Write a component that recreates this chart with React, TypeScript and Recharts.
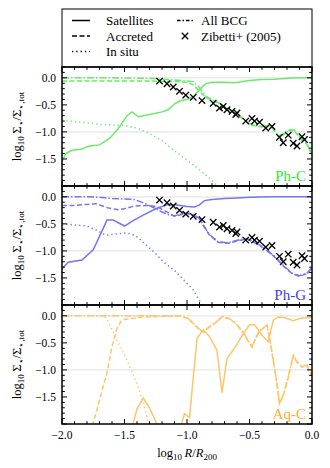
import React from "react";
import { ComposedChart, Line, Scatter, XAxis, YAxis, ReferenceLine } from "recharts";

type Pt = [number, number];

// Zibetti+ (2005) stacked profile, same in Ph-C and Ph-G panels
const zibetti: Pt[] = [
  [-1.22, -0.06], [-1.16, -0.11], [-1.11, -0.17], [-1.06, -0.25], [-1.01, -0.32],
  [-0.95, -0.36], [-0.88, -0.42], [-0.79, -0.47], [-0.74, -0.56], [-0.71, -0.53],
  [-0.68, -0.59], [-0.64, -0.62], [-0.61, -0.68], [-0.6, -0.65], [-0.53, -0.8],
  [-0.48, -0.75], [-0.46, -0.8], [-0.42, -0.82], [-0.37, -0.93], [-0.32, -0.9],
  [-0.26, -1.1], [-0.23, -1.2], [-0.19, -1.06], [-0.15, -1.21], [-0.12, -1.26],
  [-0.08, -1.09], [-0.06, -1.14],
];

// Ph-C
const phcSatellites: Pt[] = [
  [-2.0, -1.55], [-1.97, -1.4], [-1.92, -1.34], [-1.85, -1.32], [-1.78, -1.26],
  [-1.7, -1.24], [-1.62, -1.12], [-1.55, -0.94], [-1.48, -0.7], [-1.44, -0.63],
  [-1.39, -0.72], [-1.3, -0.68], [-1.2, -0.63], [-1.15, -0.59], [-1.1, -0.48],
  [-1.05, -0.42], [-1.0, -0.4], [-0.95, -0.35], [-0.9, -0.22], [-0.85, -0.11],
  [-0.8, -0.08], [-0.7, -0.08], [-0.62, -0.09], [-0.5, -0.05], [-0.4, -0.03],
  [-0.3, -0.025], [-0.2, -0.01], [-0.1, 0], [0, 0],
];
const phcAccreted: Pt[] = [
  [-2.0, -0.06], [-1.6, -0.06], [-1.3, -0.06], [-1.1, -0.07], [-1.0, -0.08],
  [-0.95, -0.13], [-0.9, -0.25], [-0.85, -0.36], [-0.8, -0.41], [-0.74, -0.48],
  [-0.7, -0.54], [-0.65, -0.61], [-0.61, -0.66], [-0.55, -0.77], [-0.5, -0.86],
  [-0.45, -0.89], [-0.4, -0.91], [-0.33, -0.88], [-0.3, -0.98], [-0.27, -1.08],
  [-0.22, -1.04], [-0.18, -0.97], [-0.14, -0.98], [-0.09, -1.13], [-0.04, -1.23],
  [0, -1.43],
];
const phcInsitu: Pt[] = [
  [-2.0, -0.78], [-1.9, -0.81], [-1.8, -0.83], [-1.7, -0.86], [-1.6, -0.87],
  [-1.5, -0.88], [-1.4, -0.93], [-1.3, -1.03], [-1.2, -1.16], [-1.1, -1.35],
  [-1.0, -1.52], [-0.9, -1.7], [-0.8, -1.9], [-0.72, -2.08],
];
const phcAll: Pt[] = [
  [-2.0, 0], [-1.6, 0], [-1.3, -0.01], [-1.1, -0.04], [-0.95, -0.07],
  [-0.9, -0.18], [-0.85, -0.34], [-0.8, -0.4], [-0.74, -0.47], [-0.7, -0.53],
  [-0.65, -0.6], [-0.61, -0.65], [-0.55, -0.76], [-0.5, -0.85], [-0.45, -0.88],
  [-0.4, -0.9], [-0.33, -0.87], [-0.3, -0.97], [-0.27, -1.07], [-0.22, -1.03],
  [-0.18, -0.96], [-0.14, -0.97], [-0.09, -1.12], [-0.04, -1.22], [0, -1.42],
];

// Ph-G
const phgSatellites: Pt[] = [
  [-2.0, -1.33], [-1.95, -1.21], [-1.84, -1.17], [-1.75, -0.98], [-1.64, -0.43],
  [-1.59, -0.43], [-1.5, -0.54], [-1.43, -0.44], [-1.35, -0.34], [-1.25, -0.22],
  [-1.15, -0.14], [-1.08, -0.15], [-1.0, -0.18], [-0.94, -0.19], [-0.9, -0.15],
  [-0.86, -0.07], [-0.8, -0.05], [-0.7, -0.03], [-0.6, -0.02], [-0.5, -0.01],
  [-0.3, 0], [0, 0],
];
const phgAccreted: Pt[] = [
  [-2.0, -0.16], [-1.9, -0.16], [-1.8, -0.14], [-1.72, -0.13], [-1.64, -0.2],
  [-1.55, -0.24], [-1.5, -0.22], [-1.42, -0.17], [-1.32, -0.16], [-1.24, -0.18],
  [-1.16, -0.28], [-1.1, -0.36], [-1.05, -0.33], [-1.0, -0.31], [-0.95, -0.34],
  [-0.9, -0.41], [-0.87, -0.53], [-0.82, -0.71], [-0.75, -0.84], [-0.67, -0.86],
  [-0.59, -0.81], [-0.52, -0.78], [-0.44, -0.87], [-0.38, -0.96], [-0.3, -1.11],
  [-0.22, -1.3], [-0.16, -1.42], [-0.1, -1.47], [-0.04, -1.42], [0, -1.32],
];
const phgInsitu: Pt[] = [
  [-2.0, -0.5], [-1.9, -0.52], [-1.8, -0.54], [-1.72, -0.62], [-1.65, -0.71],
  [-1.58, -0.69], [-1.5, -0.67], [-1.45, -0.68], [-1.4, -0.74], [-1.34, -0.86],
  [-1.26, -1.03], [-1.18, -1.22], [-1.1, -1.36], [-1.02, -1.55], [-0.95, -1.72],
  [-0.9, -1.92], [-0.87, -2.08],
];
const phgAll: Pt[] = [
  [-2.0, 0], [-1.8, 0], [-1.7, -0.01], [-1.6, -0.03], [-1.5, -0.04],
  [-1.42, -0.05], [-1.34, -0.12], [-1.26, -0.21], [-1.2, -0.28], [-1.14, -0.34],
  [-1.1, -0.35], [-1.05, -0.32], [-1.0, -0.3], [-0.95, -0.33], [-0.9, -0.4],
  [-0.87, -0.52], [-0.82, -0.7], [-0.75, -0.83], [-0.67, -0.85], [-0.59, -0.8],
  [-0.52, -0.77], [-0.44, -0.86], [-0.38, -0.95], [-0.3, -1.1], [-0.22, -1.29],
  [-0.16, -1.41], [-0.1, -1.46], [-0.04, -1.41], [0, -1.31],
];

// Aq-C
const aqcSatellites: Pt[] = [
  [-1.5, -2.6], [-1.4, -1.72], [-1.35, -1.52], [-1.3, -1.7], [-1.22, -2.1],
  [-1.12, -2.6], [-1.05, -2.05], [-1.02, -1.81], [-0.98, -1.88], [-0.92, -0.42],
  [-0.87, -0.26], [-0.82, -0.38], [-0.76, -0.64], [-0.72, -1.42], [-0.68, -0.79],
  [-0.62, -0.6], [-0.55, -0.33], [-0.5, -0.17], [-0.46, -0.16], [-0.4, -0.36],
  [-0.35, -0.48], [-0.31, -0.08], [-0.27, -0.02], [-0.22, -0.03], [-0.15, -0.09],
  [-0.1, -0.05], [-0.02, -0.03], [0, -0.03],
];
const aqcAccreted: Pt[] = [
  [-1.8, -2.3], [-1.74, -1.9], [-1.7, -1.56], [-1.64, -1.05], [-1.6, -0.57],
  [-1.56, -0.23], [-1.52, -0.07], [-1.44, -0.05], [-1.36, -0.02], [-1.2, -0.01],
  [-1.05, -0.01], [-1.0, -0.04], [-0.96, -0.12], [-0.91, -0.24], [-0.87, -0.3],
  [-0.82, -0.21], [-0.76, -0.11], [-0.72, -0.02], [-0.67, -0.05], [-0.62, -0.12],
  [-0.56, -0.28], [-0.52, -0.43], [-0.48, -0.58], [-0.46, -0.47], [-0.42, -0.28],
  [-0.36, -0.18], [-0.34, -0.4], [-0.31, -0.83], [-0.28, -1.26], [-0.26, -1.63],
  [-0.23, -1.48], [-0.19, -1.14], [-0.15, -0.74], [-0.12, -0.86], [-0.08, -0.95],
  [-0.04, -0.92], [-0.02, -1.02], [0, -1.11],
];
const aqcInsitu: Pt[] = [
  [-2.0, 0], [-1.8, 0], [-1.68, 0], [-1.65, -0.03], [-1.6, -0.25], [-1.55, -0.5],
  [-1.5, -0.72], [-1.45, -0.98], [-1.4, -1.25], [-1.35, -1.6], [-1.3, -2.05],
  [-1.28, -2.3],
];
const aqcAll: Pt[] = [
  [-2.0, 0], [-1.5, 0], [-1.2, 0], [-1.05, 0], [-1.0, -0.03], [-0.96, -0.11],
  [-0.91, -0.23], [-0.87, -0.29], [-0.82, -0.2], [-0.76, -0.1], [-0.72, -0.01],
  [-0.67, -0.04], [-0.62, -0.11], [-0.56, -0.27], [-0.52, -0.42], [-0.48, -0.57],
  [-0.46, -0.46], [-0.42, -0.27], [-0.36, -0.17], [-0.34, -0.39], [-0.31, -0.82],
  [-0.28, -1.25], [-0.26, -1.62], [-0.23, -1.47], [-0.19, -1.13], [-0.15, -0.73],
  [-0.12, -0.85], [-0.08, -0.94], [-0.04, -0.91], [-0.02, -1.01], [0, -1.1],
];

const xTicks = [
  -2.0, -1.9, -1.8, -1.7, -1.6, -1.5, -1.4, -1.3, -1.2, -1.1, -1.0,
  -0.9, -0.8, -0.7, -0.6, -0.5, -0.4, -0.3, -0.2, -0.1, 0.0,
];
const yTicks = [
  -2.0, -1.9, -1.8, -1.7, -1.6, -1.5, -1.4, -1.3, -1.2, -1.1, -1.0,
  -0.9, -0.8, -0.7, -0.6, -0.5, -0.4, -0.3, -0.2, -0.1, 0.0, 0.1, 0.2,
];
const xTickLabels = [-2.0, -1.5, -1.0, -0.5, 0.0];
const yTickLabels = [0.0, -0.5, -1.0, -1.5];
const gridLines = [0, -1];

const SERIF = '"Liberation Serif", "DejaVu Serif", serif';
const X_DOMAIN: [number, number] = [-2, 0];
const Y_DOMAIN: [number, number] = [-2, 0.2];
const PLOT_L = 62;
const PLOT_W = 250;
const PLOT_H = 119;
const PANEL_TOPS = [67, 186, 305];
const DASH = "5 2.5";
const DASHDOT = "7 2 1.5 2";
const DOT = "1.3 3";

const pts = (a: Pt[]) => a.map(([x, y]) => ({ x, y }));
const isMajor = (v: number) => Math.abs(v * 2 - Math.round(v * 2)) < 1e-6;
const has = (arr: number[], v: number) => arr.some((a) => Math.abs(a - v) < 1e-6);
const fmt = (v: number) => (v < -1e-9 ? "\u2212" : "") + Math.abs(v).toFixed(1);
const tickLen = (v: number) => (isMajor(v) ? 5 : 2.8);
// frame tick positions (same linear mapping as the chart's plot box)
const tx = (v: number) => PLOT_L + ((v - X_DOMAIN[0]) / (X_DOMAIN[1] - X_DOMAIN[0])) * PLOT_W;
const ty = (top: number, v: number) => top + ((Y_DOMAIN[1] - v) / (Y_DOMAIN[1] - Y_DOMAIN[0])) * PLOT_H;

function BottomLabel({ x, y, payload, showLabel }: any) {
  const v = payload.value;
  if (!showLabel || !has(xTickLabels, v)) return <g />;
  return (
    <text x={x} y={y + 15} textAnchor="middle" fontSize={11.5} fontFamily={SERIF} fill="#000">
      {fmt(v)}
    </text>
  );
}

function LeftLabel({ x, y, payload }: any) {
  const v = payload.value;
  if (!has(yTickLabels, v)) return <g />;
  return (
    <text x={x - 6} y={y + 4} textAnchor="end" fontSize={11.5} fontFamily={SERIF} fill="#000">
      {fmt(v)}
    </text>
  );
}

function Cross({ cx, cy }: any) {
  const s = 3.2;
  return (
    <path
      d={`M${cx - s},${cy - s}L${cx + s},${cy + s}M${cx - s},${cy + s}L${cx + s},${cy - s}`}
      stroke="#000"
      strokeWidth={1.3}
      fill="none"
    />
  );
}

interface PanelProps {
  top: number;
  color: string;
  sat: Pt[];
  acc: Pt[];
  insitu: Pt[];
  all: Pt[];
  showZib: boolean;
  showX: boolean;
}

function Panel({ top, color, sat, acc, insitu, all, showZib, showX }: PanelProps) {
  const bottomH = showX ? 46 : 0;
  const h = PLOT_H + bottomH;
  const common = { dataKey: "y", dot: false, isAnimationActive: false, strokeWidth: 1.5, stroke: color, type: "linear" as const };
  return (
    <div style={{ position: "absolute", left: 0, top, width: 330, height: h }}>
      <ComposedChart width={330} height={h} margin={{ top: 0, right: 330 - PLOT_L - PLOT_W, bottom: 0, left: 0 }}>
        <XAxis
          type="number" dataKey="x" domain={X_DOMAIN} ticks={xTicks} interval={0} allowDataOverflow
          height={bottomH} tickSize={0} tickMargin={0} tickLine={false} axisLine={false}
          tick={(p: any) => <BottomLabel {...p} showLabel={showX} />}
        />
        <YAxis
          type="number" dataKey="y" domain={Y_DOMAIN} ticks={yTicks} interval={0} allowDataOverflow
          width={PLOT_L} tickSize={0} tickMargin={0} tickLine={false} axisLine={false}
          tick={(p: any) => <LeftLabel {...p} />}
        />
        {gridLines.map((g) => (
          <ReferenceLine key={g} y={g} stroke="#e6e6e6" strokeWidth={1.3} />
        ))}
        <Line data={pts(insitu)} {...common} strokeDasharray={DOT} />
        <Line data={pts(sat)} {...common} />
        <Line data={pts(acc)} {...common} strokeDasharray={DASH} />
        <Line data={pts(all)} {...common} strokeDasharray={DASHDOT} />
        {showZib && (
          <Scatter data={pts(zibetti)} dataKey="y" isAnimationActive={false} shape={(p: any) => <Cross {...p} />} />
        )}
      </ComposedChart>
    </div>
  );
}

function Frame({ top }: { top: number }) {
  const bottom = top + PLOT_H;
  const right = PLOT_L + PLOT_W;
  return (
    <g stroke="#000" strokeWidth={1}>
      {xTicks.map((v) => (
        <g key={`x${v}`}>
          <line x1={tx(v)} x2={tx(v)} y1={top} y2={top + tickLen(v)} />
          <line x1={tx(v)} x2={tx(v)} y1={bottom} y2={bottom - tickLen(v)} />
        </g>
      ))}
      {yTicks.map((v) => (
        <g key={`y${v}`}>
          <line x1={PLOT_L} x2={PLOT_L + tickLen(v)} y1={ty(top, v)} y2={ty(top, v)} />
          <line x1={right} x2={right - tickLen(v)} y1={ty(top, v)} y2={ty(top, v)} />
        </g>
      ))}
      <rect x={PLOT_L} y={top} width={PLOT_W} height={PLOT_H} fill="none" strokeWidth={1.5} />
    </g>
  );
}

function YLabel({ cy }: { cy: number }) {
  return (
    <text transform={`translate(21,${cy}) rotate(-90)`} textAnchor="middle" fontSize={12.5} fontFamily={SERIF} fill="#000">
      <tspan>log</tspan>
      <tspan dy={3} fontSize={9}>10</tspan>
      <tspan dy={-3}>{"\u2009\u03A3"}</tspan>
      <tspan dy={3} fontSize={9}>{"\u22C6"}</tspan>
      <tspan dy={-3}>{"/\u03A3"}</tspan>
      <tspan dy={3} fontSize={9}>{"\u22C6,tot"}</tspan>
    </text>
  );
}

function Overlay() {
  const t = { fontFamily: SERIF, fontSize: 13, fill: "#000" };
  return (
    <svg width={330} height={468} style={{ position: "absolute", left: 0, top: 0, pointerEvents: "none" }}>
      <rect x={62} y={9} width={250} height={58} fill="none" stroke="#000" strokeWidth={1} />
      {PANEL_TOPS.map((pt) => (
        <Frame key={pt} top={pt} />
      ))}
      <line x1={72} x2={90} y1={20.5} y2={20.5} stroke="#000" strokeWidth={1.5} />
      <text x={106} y={25} {...t}>Satellites</text>
      <line x1={72} x2={90} y1={36} y2={36} stroke="#000" strokeWidth={1.5} strokeDasharray={DASH} />
      <text x={106} y={40.5} {...t}>Accreted</text>
      <line x1={72} x2={90} y1={51.5} y2={51.5} stroke="#000" strokeWidth={1.5} strokeDasharray={DOT} />
      <text x={106} y={56} {...t}>In situ</text>
      <line x1={177} x2={193} y1={20.5} y2={20.5} stroke="#000" strokeWidth={1.5} strokeDasharray="3.5 2 1.5 2" />
      <text x={201} y={25} {...t}>All BCG</text>
      <Cross cx={185} cy={36} />
      <text x={201} y={40.5} {...t}>Zibetti+ (2005)</text>

      {PANEL_TOPS.map((pt) => (
        <YLabel key={pt} cy={pt + PLOT_H / 2} />
      ))}

      <text x={306} y={181} textAnchor="end" fontFamily={SERIF} fontSize={15} fill="#2ee82e">Ph-C</text>
      <text x={306} y={300} textAnchor="end" fontFamily={SERIF} fontSize={15} fill="#3b3bf5">Ph-G</text>
      <text x={306} y={419} textAnchor="end" fontFamily={SERIF} fontSize={15} fill="#ffad2a">Aq-C</text>

      <text x={187} y={457} textAnchor="middle" fontFamily={SERIF} fontSize={12.5} fill="#000">
        <tspan>log</tspan>
        <tspan dy={3} fontSize={9}>10</tspan>
        <tspan dy={-3} fontStyle="italic">{"\u2009R"}</tspan>
        <tspan>/</tspan>
        <tspan fontStyle="italic">R</tspan>
        <tspan dy={3} fontSize={9}>200</tspan>
      </text>
    </svg>
  );
}

export default function App() {
  return (
    <div style={{ position: "absolute", left: 0, top: 0, width: 330, height: 468, background: "#fff" }}>
      <Panel top={PANEL_TOPS[0]} color="#6aea6a" sat={phcSatellites} acc={phcAccreted} insitu={phcInsitu} all={phcAll} showZib showX={false} />
      <Panel top={PANEL_TOPS[1]} color="#7474f8" sat={phgSatellites} acc={phgAccreted} insitu={phgInsitu} all={phgAll} showZib showX={false} />
      <Panel top={PANEL_TOPS[2]} color="#ffc56a" sat={aqcSatellites} acc={aqcAccreted} insitu={aqcInsitu} all={aqcAll} showZib={false} showX />
      <Overlay />
    </div>
  );
}
